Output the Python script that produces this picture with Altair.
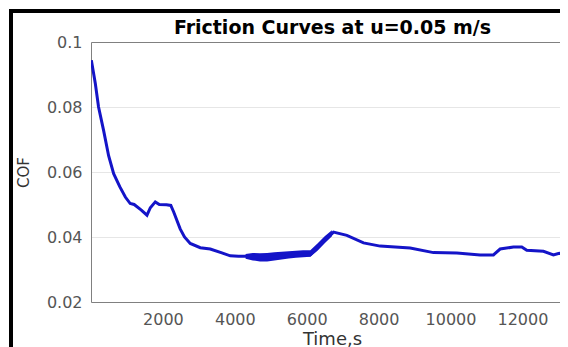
import altair as alt
import pandas as pd

# main curve (time s, COF)
t_vals = [10, 120, 210, 350, 490, 630, 800, 955, 1090, 1200, 1400, 1557, 1650, 1788, 1900, 2100,
          2220, 2300, 2480, 2600, 2760, 3040, 3317, 3640, 3873, 4100, 4430, 4800, 5355,
          5820, 6097, 6400, 6745, 7117, 7580, 8043, 8877, 9526, 10175, 10823, 11194,
          11380, 11750, 11982, 12121, 12584, 12862, 13000, 13230]
cof_vals = [0.0944, 0.0872, 0.0800, 0.0728, 0.0650, 0.0595, 0.0555, 0.0523, 0.0503, 0.0500, 0.0483, 0.0467,
            0.0490, 0.0508, 0.0500, 0.0499, 0.0497, 0.0477, 0.0425, 0.0400, 0.0380, 0.0367,
            0.0363, 0.0351, 0.0342, 0.0341, 0.0341, 0.0335, 0.0342, 0.0346, 0.0345, 0.0378,
            0.0415, 0.0405, 0.0382, 0.0372, 0.0366, 0.0352, 0.0351, 0.0345, 0.0345, 0.0363,
            0.0369, 0.0369, 0.0359, 0.0356, 0.0345, 0.0349, 0.0352]

# noisy band (thick region)
band_t = [4300, 4500, 4700, 4900, 5100, 5300, 5500, 5700, 5900, 6100, 6300, 6500, 6700]
band_lo = [0.0333, 0.0328, 0.0325, 0.0325, 0.0328, 0.0331, 0.0334, 0.0336, 0.0338, 0.0339,
           0.0358, 0.0381, 0.0402]
band_hi = [0.0348, 0.0351, 0.0350, 0.0351, 0.0353, 0.0355, 0.0356, 0.0358, 0.0359, 0.0359,
           0.0380, 0.0402, 0.0421]

x_ticks = [2000, 4000, 6000, 8000, 10000, 12000]
y_ticks = [0.02, 0.04, 0.06, 0.08, 0.1]

BLUE = "#1414c8"
FONT = "DejaVu Sans"

df = pd.DataFrame({"t": t_vals, "cof": cof_vals})
bdf = pd.DataFrame({"t": band_t, "lo": band_lo, "hi": band_hi})

xscale = alt.Scale(domain=[0, 13045], nice=False, zero=False)
yscale = alt.Scale(domain=[0.02, 0.1], nice=False, zero=False)

band = alt.Chart(bdf).mark_area(color=BLUE, opacity=1, clip=True).encode(
    x=alt.X("t:Q", scale=xscale,
            axis=alt.Axis(orient="top", labels=False, title=None, values=x_ticks,
                          ticks=False, grid=False, domainColor="#808080")),
    y=alt.Y("lo:Q", scale=yscale),
    y2="hi:Q",
)

line = alt.Chart(df).mark_line(color=BLUE, strokeWidth=3, clip=True).encode(
    x=alt.X("t:Q", scale=xscale,
            axis=alt.Axis(values=x_ticks, format="d", title="Time,s",
                          titleX=241, titleY=42, titleBaseline="alphabetic",
                          titleFontSize=18, titleFontWeight="normal")),
    y=alt.Y("cof:Q", scale=yscale,
            axis=alt.Axis(values=y_ticks, format=".2~f", title="COF",
                          titleX=-68, titleY=130, titleAngle=270,
                          titleAlign="center", titleBaseline="middle",
                          titleFontSize=15, titleFontWeight="normal")),
)

frame_left = alt.Chart(df).mark_rule(color="black", strokeWidth=3).encode(
    x=alt.value(-80), y=alt.value(-32), y2=alt.value(305))
frame_top = alt.Chart(df).mark_rule(color="black", strokeWidth=3).encode(
    x=alt.value(-82), x2=alt.value(480), y=alt.value(-31))

chart = alt.layer(band, line, frame_left, frame_top).resolve_axis(x="independent").properties(
    width=469, height=260,
    title=alt.TitleParams("Friction Curves at u=0.05 m/s", fontSize=19, font=FONT,
                          fontWeight="bold", color="black", offset=-44, dx=7,
                          baseline="alphabetic", anchor="middle"),
    autosize=alt.AutoSizeParams(type="none"),
    padding={"left": 83, "top": 34, "right": 0, "bottom": 45},
).configure_view(stroke=None).configure_axis(
    labelFont=FONT, titleFont=FONT, labelFontSize=16, labelColor="#555555",
    titleColor="#333333", gridColor="#e6e6e6", domainColor="#808080",
    tickSize=0, labelPadding=9, labelAngle=0,
)

chart.save("out.html", embed_options={"renderer": "svg", "actions": False})
